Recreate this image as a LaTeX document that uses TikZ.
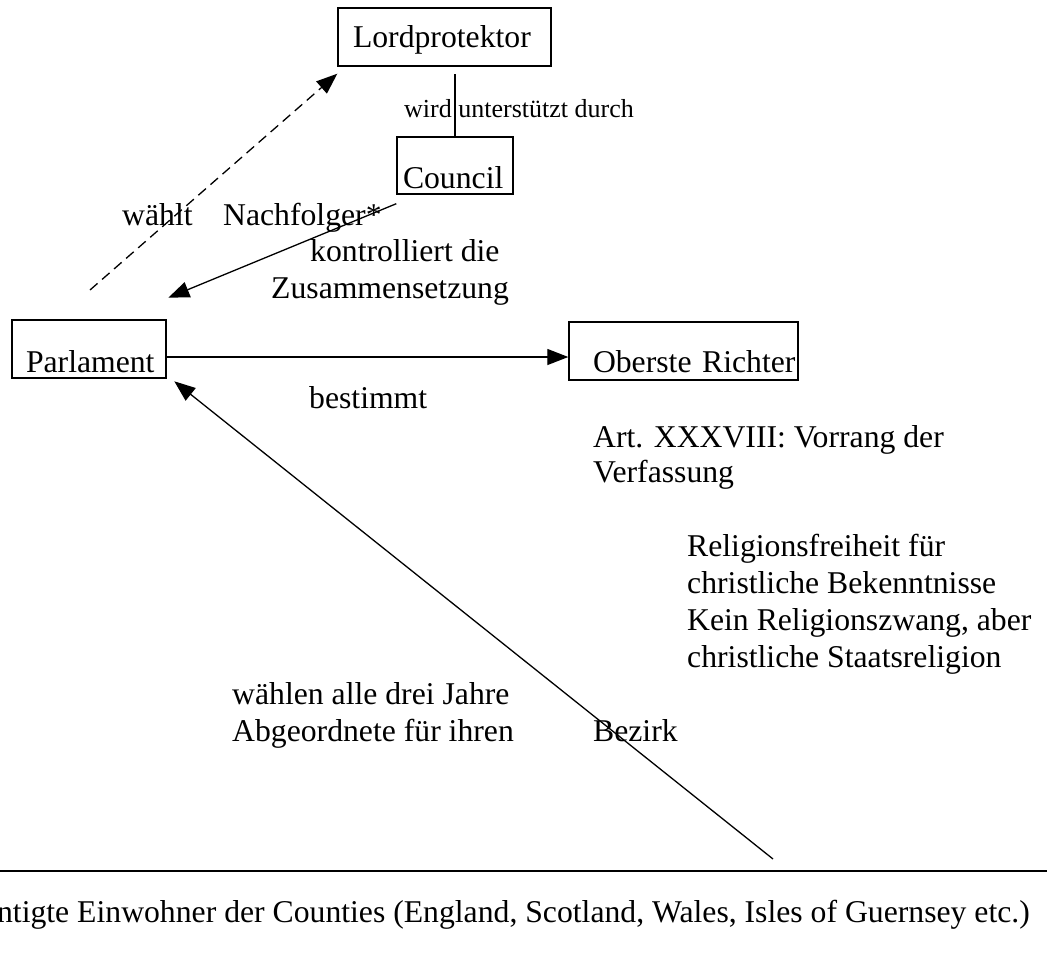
\documentclass[tikz,border=0pt]{standalone}
\usepackage{fontspec}
\setmainfont{Liberation Serif}
\usetikzlibrary{arrows.meta,calc}
\tikzset{
  big/.style={font=\fontsize{31.7}{36.5}\selectfont},
  small/.style={font=\fontsize{26}{30}\selectfont},
  txt/.style={big,anchor=base west,inner sep=0pt,align=left},
  box/.style={big,draw,line width=1.4pt,inner sep=0pt,align=left,anchor=center},
  conn/.style={line width=1.3pt},
  arr/.style={conn,-{Triangle[length=21pt,width=16pt]}},
}
\begin{document}
\begin{tikzpicture}[x=1pt,y=-1pt]
\useasboundingbox (0,0) rectangle (1047,964);
% boxes
\node[box,text width=213pt,text height=39pt,text depth=19pt] (lord) at (444.5,37) {\hspace*{15pt}Lordprotektor};
\node[box,text width=116pt,text height=51pt,text depth=6pt] (council) at (455,165.5) {\hspace*{6pt}Council};
\node[box,line width=2.6pt,text width=154pt,text height=52pt,text depth=6pt] (parl) at (89,349) {\hspace*{14pt}Parlament};
\node[box,text width=229pt,text height=50pt,text depth=8pt] (rich) at (683.5,351) {\hspace*{24pt}Oberste Richter};
% labels (base = baseline of the last line)
\node[txt,small] (wud) at (404,117) {wird unterstützt durch};
\node[txt] (waehlt) at (122,225) {wählt};
\node[txt] (nachf) at (223,225) {Nachfolger*};
\node[txt] (kontr) at (271,298) {\hspace*{39pt}kontrolliert die\\Zusammensetzung};
\node[txt] (best) at (309,408) {bestimmt};
\node[txt,font=\fontsize{31.7}{35}\selectfont] (art) at (593,482) {Art. XXXVIII: Vorrang der\\Verfassung};
\node[txt,font=\fontsize{31.7}{37}\selectfont] (rel) at (687,667) {Religionsfreiheit für\\christliche Bekenntnisse\\Kein Religionszwang, aber\\christliche Staatsreligion};
\node[txt] (wjahre) at (232,741) {wählen alle drei Jahre\\Abgeordnete für ihren};
\node[txt] (bez) at (593,741) {Bezirk};
\node[big,anchor=base east,inner sep=0pt] (einw) at (1030,922) {ntigte Einwohner der Counties (England, Scotland, Wales, Isles of Guernsey etc.)};
% coordinates
\coordinate (dstart) at (90,290);
\coordinate (lstart) at (773,859);
\coordinate (hl) at (0,871);
\coordinate (hr) at (1047,871);
% connectors
\draw[conn] (council.north) -- ($(council.north |- lord.south)+(0,7)$);
\draw[arr,dashed,dash pattern=on 10pt off 6pt] (dstart) -- ($(lord.south west)+(0,7)$);
\draw[arr] ($(council.south west)+(0,9)$) -- ($(parl.north east)+(1,-21)$);
\coordinate (h) at ($(parl.east)+(0,8)$);
\draw[arr] (h) -- (h -| rich.west);
\draw[arr] (lstart) -- ($(parl.south east)+(7,2)$);
\draw[line width=2.4pt] (hl) -- (hr);
\end{tikzpicture}
\end{document}
